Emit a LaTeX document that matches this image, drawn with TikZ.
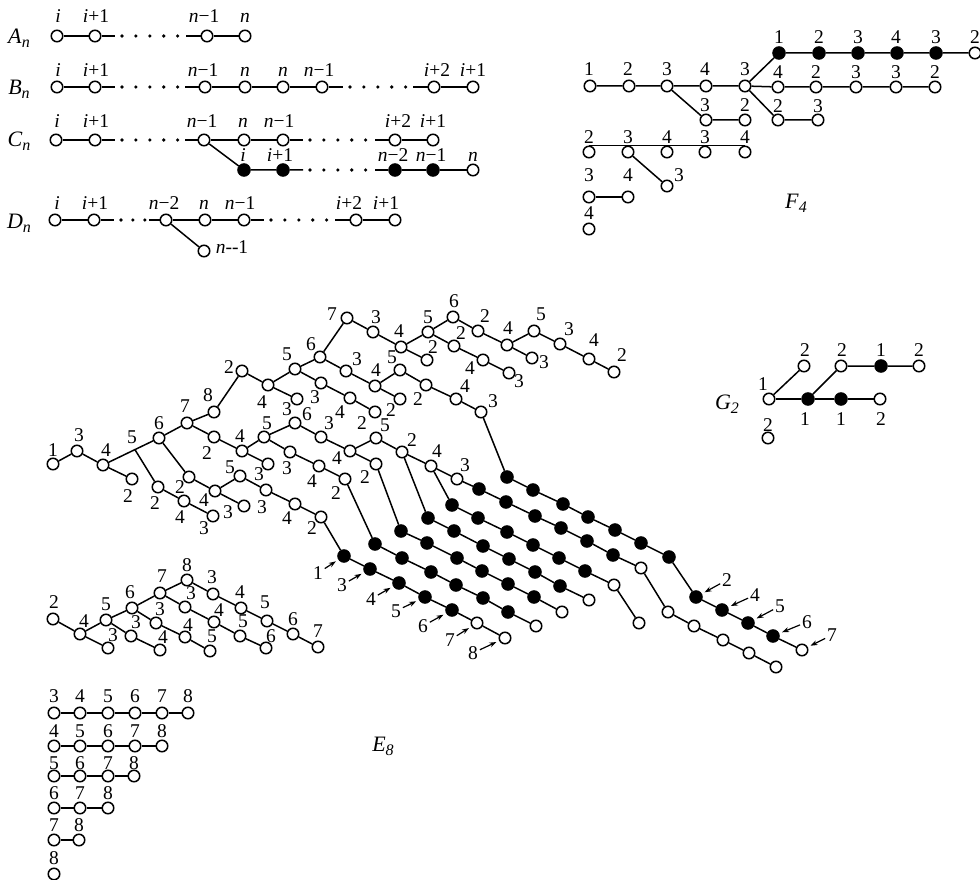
\documentclass[tikz,border=0pt]{standalone}
\usepackage{fontspec}
\setmainfont{Liberation Serif}
\usetikzlibrary{arrows.meta,calc}
\newcommand{\vi}{\textit{i}}
\newcommand{\vn}{\textit{n}}
\newcommand{\dynk}[2]{{\fontsize{22}{22}\selectfont\textit{#1}}\raisebox{-4pt}{\fontsize{16}{16}\selectfont\textit{#2}}}

\begin{document}
\begin{tikzpicture}[
  x=1pt,y=-1pt,
  font=\fontsize{19.5}{19.5}\selectfont,
  wh/.style={circle,draw,line width=1.5pt,fill=white,inner sep=0pt,minimum size=11.5pt},
  bl/.style={circle,draw,line width=1pt,fill=black,inner sep=0pt,minimum size=12.5pt},
  ln/.style={line width=1.5pt},
  dotrow/.style={line width=3.6pt,line cap=round,dash pattern=on 0pt off 13.9pt,
                 shorten <=7pt,shorten >=7pt},
  arr/.style={line width=1.2pt,-{Stealth[length=7pt,width=5pt]},shorten >=3pt,shorten <=2pt},
  lbl/.style={inner sep=0pt,text height=13pt,text depth=0pt},
  ]
  \useasboundingbox (0,0) rectangle (980,880);
  % classical series
  \foreach \nm/\px/\py/\tx/\lx/\ly in {
    a1/57/36/\vi/58/16, a2/95/36/\vi+1/96/16, a3/207/36/\vn−1/204/16, a4/245/36/\vn/245/16,
    b1/57/87/\vi/58/70, b2/95/87/\vi+1/96/70, b3/205/87/\vn−1/203/70, b4/245/87/\vn/245/70,
    b5/283/87/\vn/283/70, b6/322/87/\vn−1/319/70, b7/434/87/\vi+2/437/70, b8/473/87/\vi+1/473/70,
    c1/56/140/\vi/57/121, c2/95/140/\vi+1/96/121, c3/204/140/\vn−1/202/121, c4/244/140/\vn/243/121,
    c5/283/140/\vn−1/279/121, c6/395/140/\vi+2/398/121, c7/433/140/\vi+1/433/121,
    cc5/473/170/\vn/473/155,
    d1/55/220/\vi/57/203, d2/94/220/\vi+1/95/203, d3/166/220/\vn−2/164/203, d4/205/220/\vn/204/203,
    d5/244/220/\vn−1/240/203, d6/356/220/\vi+2/349/203, d7/395/220/\vi+1/386/203,
    d8/204/251/\vn-{}-1/232/247,
    % F4
    f1/590/86/1/589/69, f2/629/86/2/628/69, f3/667/86/3/667/69, f4/706/86/4/705/69, f5/745/86/3/745/69,
    f6/975/53/2/975/37,
    f7/778/87/4/778/72, f8/816/87/2/816/72, f9/856/87/3/856/72, f10/896/87/3/896/72, f11/935/87/2/935/72,
    f12/778/120/2/778/106, f13/818/120/3/818/106, f14/706/120/3/705/105, f15/745/120/2/745/105,
    f16/589/152/2/589/137, f17/628/152/3/628/137, f18/667/152/4/667/137, f19/705/152/3/705/137,
    f20/745/152/4/745/137, f21/667/186/3/679/175, f22/589/197/3/589/175, f23/628/197/4/628/175,
    f24/589/229/4/589/213,
    % G2
    g1/769/399/1/763/384, g2/804/366/2/805/350, g3/880/399/2/881/419, g4/841/366/2/842/350,
    g5/919/366/2/919/350, g6/768/438/2/768/425,
    % E8 main sheet
    e1/53/464/1/53/450, e2/77/451/3/79/435, e3/103/465/4/106/450, e4/132/479/2/128/496,
    e5/159/438/6/159/423, e6/187/423/7/185/406, e7/214/412/8/208/395, e8/158/487/2/155/503,
    e9/184/501/4/180/517, e10/213/516/3/204/528, e11/189/477/2/180/487, e12/215/491/4/204/500,
    e13/244/506/3/228/512, e14/240/476/5/230/467, e15/266/490/3/262/507, e16/295/504/4/287/518,
    e17/321/517/2/312/528, e18/214/437/2/207/453, e19/242/451/4/240/436, e20/268/464/3/259/474,
    e21/264/437/5/267/423, e22/295/423/6/307/414, e23/290/452/3/287/468, e24/319/466/4/312/481,
    e25/345/479/2/336/493, e26/321/437/3/329/423, e27/350/451/4/337/458, e28/376/438/5/385/425,
    e29/402/452/2/412/440, e30/431/466/4/437/451, e31/457/479/3/465/465, e32/376/464/2/365/477,
    e33/242/371/2/229/367, e34/268/385/4/262/402, e35/297/399/3/287/409, e36/295/369/5/287/354,
    e37/320/357/6/311/344, e38/321/383/3/315/397, e39/350/398/4/340/412, e40/375/412/2/362/423,
    e41/347/318/7/332/314, e42/373/332/3/376/317, e43/401/347/4/399/331, e44/427/360/2/433/347,
    e45/428/332/5/428/317, e46/453/317/6/454/301, e47/478/331/2/485/316, e48/454/346/2/461/333,
    e49/483/360/4/470/368, e50/509/373/3/519/381, e51/507/345/4/508/328, e52/532/358/3/544/362,
    e53/534/331/5/541/314, e54/560/344/3/569/329, e55/589/359/4/594/340, e56/614/372/2/622/355,
    e57/346/371/3/357/359, e58/375/386/4/376/370, e59/400/399/2/391/410, e60/400/370/5/392/357,
    e61/426/385/2/418/399, e62/456/399/4/465/386, e63/481/412/3/493/401,
    % E8 lower left sheet
    h1/53/619/2/54/602, h2/80/634/4/84/621, h3/108/648/3/113/635, h4/106/620/5/106/604,
    h5/131/636/3/136/622, h6/132/608/6/130/592, h7/160/593/7/162/576, h8/156/623/3/160/609,
    h9/160/650/4/163/637, h10/185/637/4/188/625, h11/185/607/3/191/593, h12/187/580/8/187/565,
    h13/213/594/3/212/577, h14/241/608/4/240/592, h15/267/621/5/265/602, h16/293/634/6/293/619,
    h17/318/647/7/318/631, h18/214/622/4/219/610, h19/240/636/5/243/621, h20/266/648/6/271/636,
    h21/210/651/5/212/636,
    % E8 staircase
    k1/54/713/3/54/696, k2/80/713/4/80/696, k3/108/713/5/108/696, k4/135/713/6/135/696,
    k5/162/713/7/162/696, k6/188/713/8/188/696,
    m1/54/746/4/54/731, m2/80/746/5/80/731, m3/108/746/6/108/731, m4/135/746/7/135/731, m5/162/746/8/162/731,
    o1/54/776/5/54/763, o2/80/776/6/80/763, o3/108/776/7/108/763, o4/134/776/8/134/763,
    p1/54/808/6/54/793, p2/80/808/7/80/793, p3/108/808/8/108/793,
    q1/54/840/7/54/825, q2/79/840/8/79/825, s1/54/874/8/54/858%
  } {
    \node[wh] (\nm) at (\px,\py) {};
    \node[lbl] (t\nm) at (\lx,\ly) {\tx};
  }
  \foreach \nm/\px/\py/\tx/\lx/\ly in {
    cc1/244/170/\vi/243/155, cc2/283/170/\vi+1/280/155, cc3/395/170/\vn−2/393/155, cc4/433/170/\vn−1/431/155,
    f25/779/53/1/779/37, f26/819/53/2/819/37, f27/858/53/3/858/37, f28/897/53/4/896/37, f29/936/53/3/936/37,
    g7/808/399/1/805/419, g8/841/399/1/841/419, g9/881/366/1/881/350%
  } {
    \node[bl] (\nm) at (\px,\py) {};
    \node[lbl] (t\nm) at (\lx,\ly) {\tx};
  }
  % black rows of E8
  \foreach \nm/\px/\py in {
    ra1/507/477, ra2/533/490, ra3/563/504, ra4/588/517, ra5/615/530, ra6/641/543, ra7/669/557,
    ra8/696/597, ra9/722/610, ra10/748/623, ra11/773/636,
    rb1/479/489, rb2/506/502, rb3/535/516, rb4/561/528, rb5/587/541, rb6/613/555,
    rc1/452/505, rc2/478/518, rc3/507/532, rc4/533/545, rc5/559/558, rc6/585/571,
    rd1/428/518, rd2/454/531, rd3/483/546, rd4/509/559, rd5/535/572, rd6/560/586,
    re1/401/531, re2/427/543, re3/457/558, re4/482/571, re5/508/584, re6/534/597,
    rf1/375/544, rf2/402/558, rf3/431/572, rf4/456/585, rf5/483/598, rf6/508/612,
    rg1/344/556, rg2/370/569, rg3/399/583, rg4/425/597, rg5/452/610%
  } \node[bl] (\nm) at (\px,\py) {};
  \foreach \nm/\px/\py in {
    ra12/802/650, rb7/641/568, rb8/668/612, rb9/694/626, rb10/723/640, rb11/749/653, rb12/776/667,
    rc7/614/585, rc8/639/623, rd7/589/600, re7/562/612, rf7/536/626, rg6/477/623, rg7/505/638%
  } \node[wh] (\nm) at (\px,\py) {};
  % series names
  \node[lbl] (na) at (19,37) {\dynk{A}{n}};
  \node[lbl] (nb) at (19,88) {\dynk{B}{n}};
  \node[lbl] (nc) at (19,140) {\dynk{C}{n}};
  \node[lbl] (nd) at (19,222) {\dynk{D}{n}};
  \node[lbl] (nf) at (796,202) {\dynk{F}{4}};
  \node[lbl] (ng) at (727,403) {\dynk{G}{2}};
  \node[lbl] (ne) at (383,745) {\dynk{E}{8}};
  \node[lbl] (nfive) at (132,437) {5};
  % stub ends of the dotted stretches
  \coordinate (as1) at (115,36);  \coordinate (as2) at (186,36);
  \coordinate (bs1) at (115,87);  \coordinate (bs2) at (185,87);
  \coordinate (bs3) at (343,87);  \coordinate (bs4) at (413,87);
  \coordinate (cs1) at (115,140); \coordinate (cs2) at (185,140);
  \coordinate (cs3) at (303,140); \coordinate (cs4) at (375,140);
  \coordinate (cs5) at (303,170); \coordinate (cs6) at (375,170);
  \coordinate (ds1) at (114,220); \coordinate (ds2) at (149,220);
  \coordinate (ds3) at (264,220); \coordinate (ds4) at (335,220);
  \draw[ln] (a1) -- (a2) -- (as1);
  \draw[ln] (as2) -- (a3) -- (a4);
  \draw[dotrow] (as1) -- (as2);
  \draw[ln] (b1) -- (b2) -- (bs1);
  \draw[ln] (bs2) -- (b3) -- (b4) -- (b5) -- (b6) -- (bs3);
  \draw[ln] (bs4) -- (b7) -- (b8);
  \draw[dotrow] (bs1) -- (bs2);
  \draw[dotrow] (bs3) -- (bs4);
  \draw[ln] (c1) -- (c2) -- (cs1);
  \draw[ln] (cs2) -- (c3) -- (c4) -- (c5) -- (cs3);
  \draw[ln] (cs4) -- (c6) -- (c7);
  \draw[ln] (c3) -- (cc1) -- (cc2) -- (cs5);
  \draw[ln] (cs6) -- (cc3) -- (cc4) -- (cc5);
  \draw[dotrow] (cs1) -- (cs2);
  \draw[dotrow] (cs3) -- (cs4);
  \draw[dotrow] (cs5) -- (cs6);
  \draw[ln] (d1) -- (d2) -- (ds1);
  \draw[ln] (ds2) -- (d3) -- (d4) -- (d5) -- (ds3);
  \draw[ln] (ds4) -- (d6) -- (d7);
  \draw[ln] (d3) -- (d8);
  \draw[dotrow,dash pattern=on 0pt off 11.9pt,shorten >=4pt] (ds1) -- (ds2);
  \draw[dotrow] (ds3) -- (ds4);
  % F4
  \draw[ln] (f1) -- (f2) -- (f3) -- (f4) -- (f5) -- (f25) -- (f26) -- (f27) -- (f28) -- (f29) -- (f6);
  \draw[ln] (f5) -- (f7) -- (f8) -- (f9) -- (f10) -- (f11);
  \draw[ln] (f5) -- (f12) -- (f13);
  \draw[ln] (f3) -- (f14) -- (f15);
  \draw[ln] (f16.north) -- (f17.north) -- (f18.north) -- (f19.north) -- (f20.north);
  \draw[ln] (f17) -- (f21);
  \draw[ln] (f22) -- (f23);
  % G2
  \draw[ln] (g1) -- (g2);
  \draw[ln] (g1) -- (g7) -- (g8) -- (g3);
  \draw[ln] (g7) -- (g4) -- (g9) -- (g5);
  % E8 main sheet
  \coordinate (jct) at ($(e3)!0.57!(e5)$);
  \draw[ln] (e1) -- (e2) -- (e3) -- (e4);
  \draw[ln] (e3) -- (e5) -- (e6) -- (e7) -- (e33);
  \draw[ln] (jct) -- (e8) -- (e9) -- (e10);
  \draw[ln] (e5) -- (e11) -- (e12) -- (e13);
  \draw[ln] (e12) -- (e14) -- (e15) -- (e16) -- (e17);
  \draw[ln] (e6) -- (e18) -- (e19) -- (e20);
  \draw[ln] (e19) -- (e21) -- (e22) -- (e26) -- (e27) -- (e28) -- (e29) -- (e30) -- (e31);
  \draw[ln] (e21) -- (e23) -- (e24) -- (e25);
  \draw[ln] (e27) -- (e32);
  \draw[ln] (e33) -- (e34) -- (e35);
  \draw[ln] (e34) -- (e36) -- (e37) -- (e41);
  \draw[ln] (e36) -- (e38) -- (e39) -- (e40);
  \draw[ln] (e37) -- (e57) -- (e58) -- (e59);
  \draw[ln] (e58) -- (e60) -- (e61) -- (e62) -- (e63);
  \draw[ln] (e41) -- (e42) -- (e43) -- (e44);
  \draw[ln] (e43) -- (e45) -- (e46) -- (e47) -- (e51) -- (e52);
  \draw[ln] (e51) -- (e53) -- (e54) -- (e55) -- (e56);
  \draw[ln] (e45) -- (e48) -- (e49) -- (e50);
  % E8 black rows
  \draw[ln] (e63) -- (ra1) -- (ra2) -- (ra3) -- (ra4) -- (ra5) -- (ra6) -- (ra7) -- (ra8) -- (ra9) -- (ra10) -- (ra11) -- (ra12);
  \draw[ln] (e31) -- (rb1) -- (rb2) -- (rb3) -- (rb4) -- (rb5) -- (rb6) -- (rb7) -- (rb8) -- (rb9) -- (rb10) -- (rb11) -- (rb12);
  \draw[ln] (e30) -- (rc1) -- (rc2) -- (rc3) -- (rc4) -- (rc5) -- (rc6) -- (rc7) -- (rc8);
  \draw[ln] (e29) -- (rd1) -- (rd2) -- (rd3) -- (rd4) -- (rd5) -- (rd6) -- (rd7);
  \draw[ln] (e32) -- (re1) -- (re2) -- (re3) -- (re4) -- (re5) -- (re6) -- (re7);
  \draw[ln] (e25) -- (rf1) -- (rf2) -- (rf3) -- (rf4) -- (rf5) -- (rf6) -- (rf7);
  \draw[ln] (e17) -- (rg1) -- (rg2) -- (rg3) -- (rg4) -- (rg5) -- (rg6) -- (rg7);
  % E8 lower left sheet
  \draw[ln] (h1) -- (h2) -- (h3);
  \draw[ln] (h2) -- (h4) -- (h6) -- (h7) -- (h12) -- (h13) -- (h14) -- (h15) -- (h16) -- (h17);
  \draw[ln] (h4) -- (h5) -- (h9);
  \draw[ln] (h6) -- (h8) -- (h10) -- (h21);
  \draw[ln] (h7) -- (h11) -- (h18) -- (h19) -- (h20);
  % E8 staircase
  \draw[ln] (k1) -- (k2) -- (k3) -- (k4) -- (k5) -- (k6);
  \draw[ln] (m1) -- (m2) -- (m3) -- (m4) -- (m5);
  \draw[ln] (o1) -- (o2) -- (o3) -- (o4);
  \draw[ln] (p1) -- (p2) -- (p3);
  \draw[ln] (q1) -- (q2);
  % pointers
  \foreach \nm/\lx/\ly/\tx/\goal in {
    u1/318/573/1/rg1, u2/342/585/3/rg2, u3/371/599/4/rg3, u4/396/611/5/rg4, u5/423/626/6/rg5,
    u6/450/640/7/rg6, u7/473/653/8/rg7,
    v1/727/580/2/ra8, v2/755/595/4/ra9, v3/780/606/5/ra10, v4/807/622/6/ra11, v5/832/635/7/ra12%
  } {
    \node[lbl] (\nm) at (\lx,\ly) {\tx};
    \draw[arr] (\nm) -- (\goal);
  }
\end{tikzpicture}
\end{document}
